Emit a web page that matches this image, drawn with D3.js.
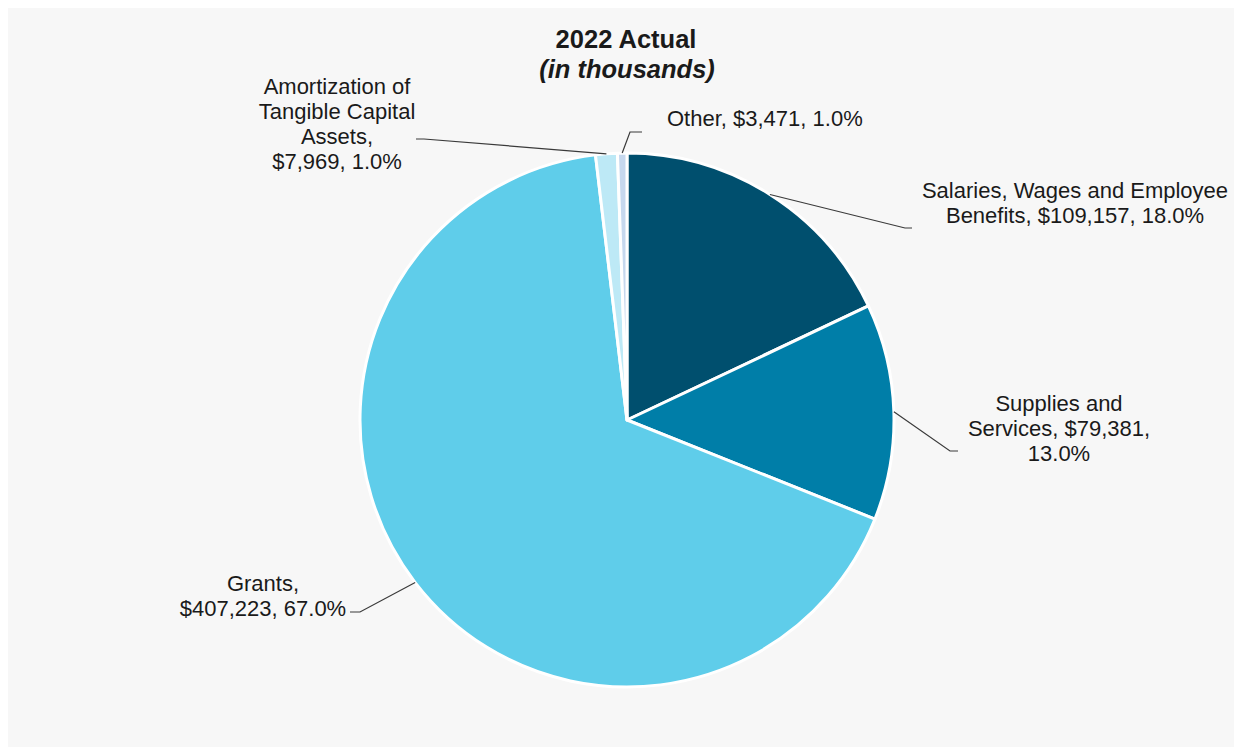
<!DOCTYPE html>
<html>
<head>
<meta charset="utf-8">
<script src="https://cdn.jsdelivr.net/npm/d3@7"></script>
<style>
  html, body { margin: 0; padding: 0; background: #ffffff; }
  svg { display: block; }
  text { font-family: "Liberation Sans", Arial, sans-serif; fill: #1a1a1a; }
</style>
</head>
<body>
<svg id="chart" width="1235" height="749"></svg>
<script>
// ---- Data ----
const categories = [
  "Salaries, Wages and Employee Benefits",
  "Supplies and Services",
  "Grants",
  "Amortization of Tangible Capital Assets",
  "Other"
];
const values = [109157, 79381, 407223, 7969, 3471];
const percentLabels = ["18.0%", "13.0%", "67.0%", "1.0%", "1.0%"];
const colors = ["#004f6e", "#007ea8", "#5fcdea", "#bde9f6", "#c6d8ee"];
const titleLines = ["2022 Actual", "(in thousands)"];

// ---- Layout (label text breaks and placements) ----
const labelLayout = [
  { lines: ["Salaries, Wages and Employee", "Benefits, $109,157, 18.0%"], x: 1075, y: 190, anchor: "middle", elbow: [905, 228], end: [912, 228] },
  { lines: ["Supplies and", "Services, $79,381,", "13.0%"], x: 1059, y: 403, anchor: "middle", elbow: [950, 451], end: [958, 451] },
  { lines: ["Grants,", "$407,223, 67.0%"], x: 263, y: 583, anchor: "middle", elbow: [360, 612], end: [350, 612] },
  { lines: ["Amortization of", "Tangible Capital", "Assets,", "$7,969, 1.0%"], x: 337, y: 86, anchor: "middle", elbow: [424, 139], end: [416, 139] },
  { lines: ["Other, $3,471, 1.0%"], x: 667, y: 118, anchor: "start", elbow: [630, 132], end: [642, 132] }
];

const cx = 627, cy = 420, R = 267;
const lineGap = 25;

const svg = d3.select("#chart");

// panel background
svg.append("rect").attr("x", 8).attr("y", 8).attr("width", 1226).attr("height", 739).attr("fill", "#f7f7f7");

// title
const title = svg.append("text").attr("x", 626).attr("text-anchor", "middle");
title.append("tspan").attr("x", 626).attr("y", 48).attr("font-size", 25.5).attr("font-weight", "bold").text(titleLines[0]);
title.append("tspan").attr("x", 627).attr("y", 78).attr("font-size", 25.5).attr("font-weight", "bold").attr("font-style", "italic").text(titleLines[1]);

const data = categories.map((c, i) => ({ name: c, value: values[i], pct: percentLabels[i], color: colors[i], layout: labelLayout[i] }));

const pie = d3.pie().sort(null).value(d => d.value);
const arc = d3.arc().innerRadius(0).outerRadius(R);
const arcs = pie(data);

const g = svg.append("g").attr("transform", `translate(${cx},${cy})`);
g.selectAll("path.slice")
  .data(arcs)
  .join("path")
  .attr("class", "slice")
  .attr("d", arc)
  .attr("fill", d => d.data.color)
  .attr("stroke", "#ffffff")
  .attr("stroke-width", 3)
  .attr("stroke-linejoin", "round");

// leader lines
arcs.forEach(a => {
  const mid = (a.startAngle + a.endAngle) / 2;
  const sx = cx + R * Math.sin(mid);
  const sy = cy - R * Math.cos(mid);
  const L = a.data.layout;
  svg.append("polyline")
    .attr("points", [[sx, sy], L.elbow, L.end].map(p => p.join(",")).join(" "))
    .attr("fill", "none")
    .attr("stroke", "#3a3a3a")
    .attr("stroke-width", 1.2);
});

// labels
arcs.forEach(a => {
  const L = a.data.layout;
  const t = svg.append("text")
    .attr("text-anchor", L.anchor)
    .attr("font-size", 22);
  L.lines.forEach((ln, i) => {
    t.append("tspan")
      .attr("x", L.x)
      .attr("y", L.y + i * lineGap)
      .attr("dy", "0.36em")
      .text(ln);
  });
});
</script>
</body>
</html>
